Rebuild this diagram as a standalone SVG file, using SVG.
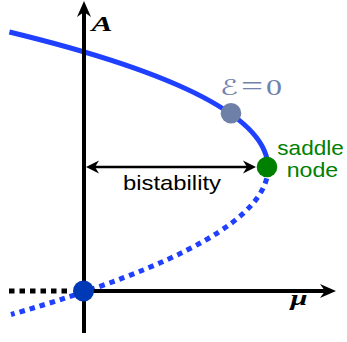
<svg xmlns="http://www.w3.org/2000/svg" width="347" height="342" viewBox="0 0 347 342">
<style>
.axis{stroke:#000;stroke-width:4;fill:none}
.branch{stroke:#1f40ff;stroke-width:5;fill:none}
.dotted{stroke-dasharray:5.5 5}
.lbl{font-family:"Liberation Sans",Arial,sans-serif;font-size:21px}
.math{font-family:"Liberation Serif","DejaVu Serif",serif;font-style:italic;font-weight:bold;font-size:21px}
.eq{font-family:"Liberation Serif","DejaVu Serif",serif;font-size:25px;fill:#7282ab}
</style>
<defs>
<marker id="axHead" viewBox="-17 -8 18 16" markerWidth="18" markerHeight="16" refX="-11" refY="0" markerUnits="userSpaceOnUse" orient="auto">
<path d="M0,0 L-16,-7 L-11,0 L-16,7 Z" fill="#000"/>
</marker>
<marker id="smHead" viewBox="-14 -7 15 14" markerWidth="15" markerHeight="14" refX="-9" refY="0" markerUnits="userSpaceOnUse" orient="auto-start-reverse">
<path d="M0,0 L-13,-6.5 L-9,0 L-13,6.5 Z" fill="#000"/>
</marker>
</defs>
<g id="connectors">
<path id="stable-branch" class="branch" d="M9.4,32 C181.8,73.8 268,119.1 268,168"/>
<path id="unstable-branch" class="branch dotted" d="M268,168 Q268,241 11,314.5"/>
<line id="trivial-unstable" x1="9" y1="291" x2="72" y2="291" stroke="#000" stroke-width="5" stroke-dasharray="5.5 5"/>
<line id="mu-axis" class="axis" x1="84" y1="291" x2="325" y2="291" marker-end="url(#axHead)"/>
<line id="A-axis" class="axis" x1="84" y1="333" x2="84" y2="12" marker-end="url(#axHead)"/>
<line id="bistability-arrow" x1="95" y1="167" x2="247" y2="167" stroke="#000" stroke-width="2.6" marker-start="url(#smHead)" marker-end="url(#smHead)"/>
</g>
<g id="origin-node"><circle cx="83.5" cy="291" r="10.5" fill="#0039b5"/></g>
<g id="energy-node"><circle cx="231" cy="113.3" r="10.3" fill="#6e7fa8"/>
<text class="eq" x="220" y="95"><tspan font-family="'DejaVu Sans','DejaVu Serif',sans-serif" font-size="22" textLength="18" lengthAdjust="spacingAndGlyphs">ℰ</tspan><tspan x="241" font-size="28" textLength="22" lengthAdjust="spacingAndGlyphs">=</tspan><tspan x="266" font-size="24" textLength="16" lengthAdjust="spacingAndGlyphs">0</tspan></text></g>
<g id="saddle-node"><circle cx="267" cy="167" r="10.3" fill="#008000"/>
<text class="lbl" x="277.3" y="155" fill="#008000" textLength="66.5" lengthAdjust="spacingAndGlyphs">saddle</text>
<text class="lbl" x="286.7" y="176.5" fill="#008000" textLength="51.5" lengthAdjust="spacingAndGlyphs">node</text></g>
<g id="labels">
<text class="lbl" x="123" y="189.5" fill="#000" textLength="98" lengthAdjust="spacingAndGlyphs">bistability</text>
<text class="math" x="91.5" y="31" textLength="21" lengthAdjust="spacingAndGlyphs">A</text>
<text class="math" x="290.5" y="305" font-size="26" textLength="17" lengthAdjust="spacingAndGlyphs">μ</text>
</g>
</svg>
